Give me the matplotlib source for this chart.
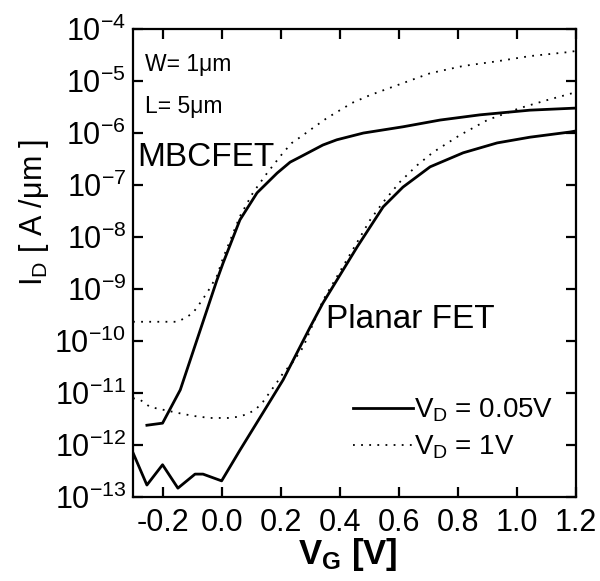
import matplotlib
matplotlib.use("Agg")
import matplotlib.pyplot as plt
import numpy as np
from matplotlib.ticker import LogLocator, NullLocator, FixedLocator

plt.rcParams["font.family"] = ["Liberation Sans", "DejaVu Sans"]
plt.rcParams["mathtext.fontset"] = "custom"
plt.rcParams["mathtext.rm"] = "Liberation Sans"
plt.rcParams["mathtext.it"] = "Liberation Sans"
plt.rcParams["mathtext.bf"] = "Liberation Sans:bold"

# MBCFET, VD = 0.05 V  (log10 of I_D)
mb_lo_v = [-0.253, -0.2, -0.14, -0.016, 0.005, 0.062, 0.12, 0.188,
           0.232, 0.266, 0.343, 0.39, 0.48, 0.614, 0.74, 0.875, 1.044, 1.2]
mb_lo_log = [-11.62, -11.58, -10.94, -8.83, -8.5, -7.67, -7.15, -6.77,
             -6.56, -6.46, -6.23, -6.13, -6.0, -5.88, -5.75, -5.65, -5.56, -5.52]

# MBCFET, VD = 1 V
mb_hi_v = [-0.3, -0.151, -0.124, -0.097, -0.073, -0.05, -0.016, 0.005, 0.062, 0.106,
           0.154, 0.208, 0.238, 0.266, 0.3, 0.357, 0.442, 0.503, 0.614, 0.706,
           0.818, 0.933, 1.044, 1.18, 1.2]
mb_hi_log = [-9.63, -9.63, -9.56, -9.46, -9.27, -9.08, -8.75, -8.4, -7.6, -7.15,
             -6.77, -6.38, -6.19, -6.08, -5.94, -5.71, -5.42, -5.27, -5.04, -4.85,
             -4.71, -4.62, -4.52, -4.44, -4.42]

# Planar FET, VD = 0.05 V
pl_lo_v = [-0.3, -0.253, -0.2, -0.148, -0.09, -0.063, 0.0, 0.062, 0.14, 0.208,
           0.3, 0.343, 0.459, 0.547, 0.614, 0.706, 0.818, 0.933, 1.044, 1.18, 1.2]
pl_lo_log = [-12.15, -12.77, -12.38, -12.83, -12.56, -12.56, -12.69, -12.1, -11.38,
             -10.75, -9.73, -9.27, -8.19, -7.42, -7.04, -6.65, -6.38, -6.19, -6.08,
             -5.98, -5.96]

# Planar FET, VD = 1 V
pl_hi_v = [-0.3, -0.276, -0.242, -0.208, -0.151, -0.097, -0.04, 0.022, 0.052, 0.079,
           0.113, 0.14, 0.164, 0.188, 0.208, 0.242, 0.276, 0.343, 0.459, 0.503,
           0.547, 0.604, 0.662, 0.716, 0.807, 0.9, 1.01, 1.1, 1.19, 1.2]
pl_hi_log = [-11.1, -11.13, -11.27, -11.31, -11.38, -11.44, -11.48, -11.48, -11.46,
             -11.42, -11.33, -11.17, -10.98, -10.79, -10.62, -10.4, -10.12, -9.22,
             -8.1, -7.67, -7.33, -6.94, -6.62, -6.37, -6.04, -5.75, -5.52, -5.37,
             -5.23, -5.21]

x_ticks = [-0.2, 0.0, 0.2, 0.4, 0.6, 0.8, 1.0, 1.2]
x_tick_labels = ["-0.2", "0.0", "0.2", "0.4", "0.6", "0.8", "1.0", "1.2"]

fig = plt.figure(figsize=(6.0, 5.81), dpi=100)
ax = fig.add_axes([0.2217, 0.1446, 0.7383, 0.8054])

solid = dict(color="black", lw=2.0)
dotted = dict(color="black", lw=1.3, ls=(0, (1, 3.5)))
ax.plot(mb_lo_v, 10.0 ** np.array(mb_lo_log), label="$V_D$ = 0.05V", **solid)
ax.plot(mb_hi_v, 10.0 ** np.array(mb_hi_log), label="$V_D$ = 1V", **dotted)
ax.plot(pl_lo_v, 10.0 ** np.array(pl_lo_log), **solid)
ax.plot(pl_hi_v, 10.0 ** np.array(pl_hi_log), **dotted)

ax.set_yscale("log")
ax.set_xlim(-0.3, 1.2)
ax.set_ylim(1e-13, 1e-4)
ax.yaxis.set_major_locator(LogLocator(base=10, numticks=20))
ax.yaxis.set_minor_locator(NullLocator())
ax.xaxis.set_major_locator(FixedLocator(x_ticks))
ax.set_xticklabels(x_tick_labels)

for s in ax.spines.values():
    s.set_linewidth(1.6)
ax.tick_params(which="major", direction="in", length=7, width=1.6,
               top=True, right=True, labelsize=22)
ax.tick_params(axis="x", pad=8)
ax.tick_params(axis="y", pad=5)

ax.set_ylabel("$I_D$ [ A /μm ]", fontsize=22)
ax.yaxis.set_label_coords(-0.185, 0.609)
ax.set_xlabel(r"$\mathbf{V_G}$ [V]", fontsize=25, fontweight="bold")
ax.xaxis.set_label_coords(0.485, -0.084)

ax.text(0.027, 0.925, "W= 1μm", transform=ax.transAxes, fontsize=16.5, va="center")
ax.text(0.027, 0.835, "L= 5μm", transform=ax.transAxes, fontsize=16.5, va="center")
ax.text(0.01, 0.725, "MBCFET", transform=ax.transAxes, fontsize=24, va="center")
ax.text(0.435, 0.38, "Planar FET", transform=ax.transAxes, fontsize=24, va="center")

ax.legend(loc="upper left", bbox_to_anchor=(0.497, 0.214), frameon=False, fontsize=20,
          handlelength=2.15, handletextpad=0.05, labelspacing=0.33,
          borderpad=0.0, borderaxespad=0.0)

fig.savefig("out.png", dpi=100)
